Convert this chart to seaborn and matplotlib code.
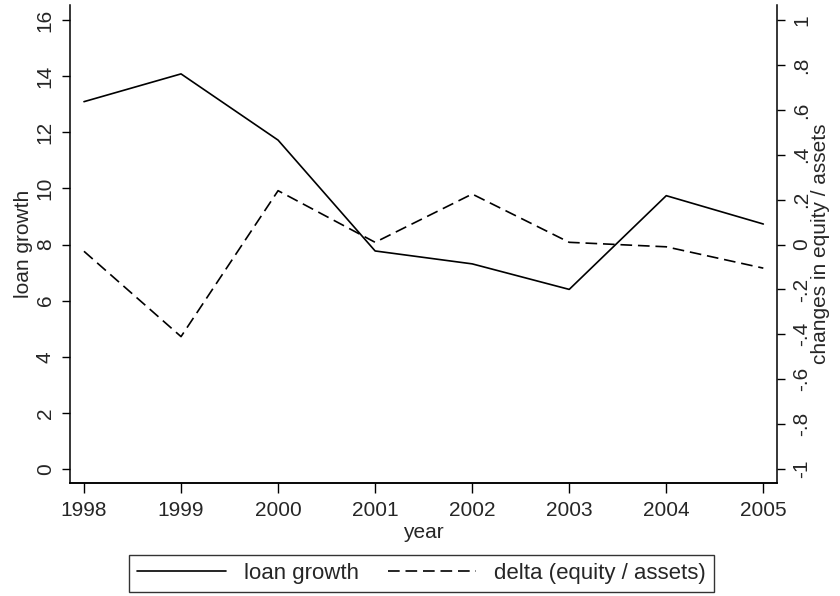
import matplotlib
matplotlib.use("Agg")
import matplotlib.pyplot as plt
import seaborn as sns
import pandas as pd

years = [1998, 1999, 2000, 2001, 2002, 2003, 2004, 2005]
loan_growth = [13.09, 14.08, 11.72, 7.77, 7.31, 6.40, 9.74, 8.73]
delta_equity = [-0.03, -0.41, 0.24, 0.01, 0.225, 0.01, -0.01, -0.105]

left_ticks = [0, 2, 4, 6, 8, 10, 12, 14, 16]
right_ticks = [-1, -0.8, -0.6, -0.4, -0.2, 0, 0.2, 0.4, 0.6, 0.8, 1]
right_tick_labels = ["-1", "-.8", "-.6", "-.4", "-.2", "0", ".2", ".4", ".6", ".8", "1"]

sns.set_style("ticks")
plt.rcParams['font.family'] = ['Liberation Sans', 'DejaVu Sans']
FS = 15
LFS = 16

df = pd.DataFrame({"year": years, "loan": loan_growth, "delta": delta_equity})

fig = plt.figure(figsize=(8.4, 5.96), dpi=100)
ax = fig.add_axes([70/840, (596-483)/596, 707/840, 478/596])
ax2 = ax.twinx()

sns.lineplot(data=df, x="year", y="loan", ax=ax, color="black", lw=1.2,
             label="loan growth", legend=False)
sns.lineplot(data=df, x="year", y="delta", ax=ax2, color="black", lw=1.2,
             linestyle=(0, (7, 3.5)), label="delta (equity / assets)", legend=False)

ax.set_xlim(1997.856, 2005.141)
ax.set_ylim(-0.499, 16.535)
ax2.set_ylim(-1.062, 1.067)

ax.set_xticks(years)
ax.set_xticklabels([str(y) for y in years], fontsize=FS)
ax.set_yticks(left_ticks)
ax.set_yticklabels([str(t) for t in left_ticks], fontsize=FS, rotation=90, va="center")
ax2.set_yticks(right_ticks)
ax2.set_yticklabels(right_tick_labels, fontsize=FS, rotation=90, va="center")

for a in (ax, ax2):
    a.tick_params(length=6, width=1.0, color="black", pad=5)
    for s in a.spines.values():
        s.set_linewidth(1.1)
        s.set_color("black")
ax.tick_params(axis="x", length=7, pad=6)
ax2.spines['left'].set_visible(False)
ax.spines['right'].set_visible(False)
ax.spines['top'].set_visible(False)
ax2.spines['top'].set_visible(False)

ax.set_xlabel("year", fontsize=FS, labelpad=2)
ax.set_ylabel("loan growth", fontsize=FS, labelpad=2)
ax2.set_ylabel("changes in equity / assets", fontsize=FS, rotation=90, labelpad=0)

h1, l1 = ax.get_legend_handles_labels()
h2, l2 = ax2.get_legend_handles_labels()
leg = fig.legend(h1 + h2, l1 + l2, loc="center", bbox_to_anchor=(421.5/840, 22.5/596),
                 ncol=2, fontsize=LFS, frameon=True, fancybox=False, handlelength=4.0,
                 columnspacing=1.3, borderpad=0.35, handletextpad=0.8, borderaxespad=0)
leg.get_frame().set_edgecolor("black")
leg.get_frame().set_linewidth(1.0)

fig.savefig("out.png", dpi=100)
